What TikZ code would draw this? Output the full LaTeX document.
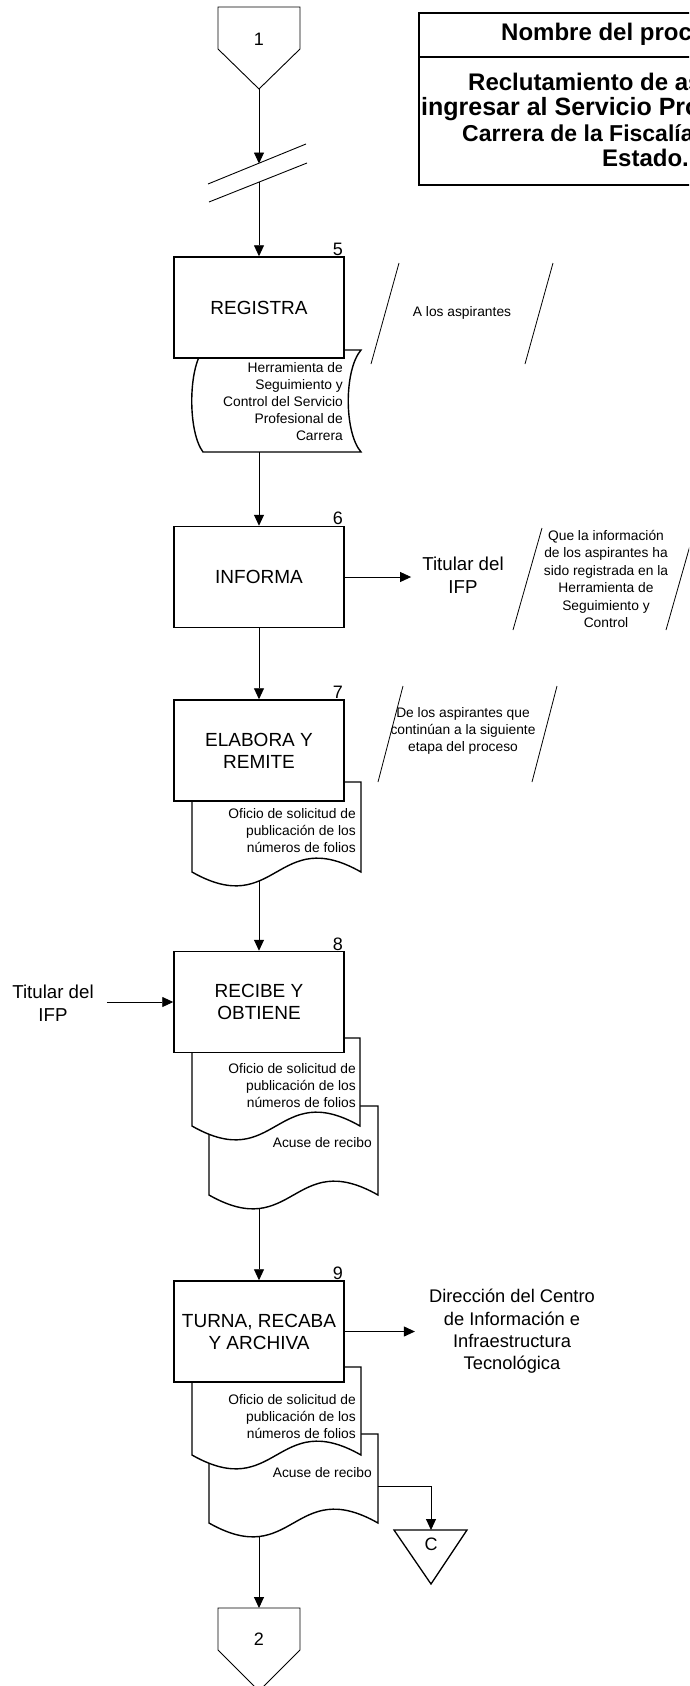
\documentclass[tikz,border=0pt]{standalone}
\usepackage{fontspec}
\setmainfont{Liberation Sans}
\usetikzlibrary{arrows.meta}
\newcommand{\fsz}[2]{\fontsize{#1}{#2}\selectfont}
\newcommand{\docshp}[4]{% L R T B
  \draw[docline] (#1,#3) -- (#2,#3) -- (#2,#4)
    .. controls ({(#1+#2)/2},{#4-48}) and ({(#1+#2)/2},{#4+48}) .. (#1,#4) -- cycle;}
\tikzset{
  proc/.style={draw, line width=1.5pt, fill=white, minimum width=170pt, minimum height=101pt,
    inner sep=0pt, align=center, font=\fsz{19}{22}},
  docline/.style={draw, line width=1.4pt, fill=white, line join=miter},
  doctext/.style={inner sep=0pt, align=right, font=\fsz{13.8}{17}},
  note/.style={inner sep=0pt, align=center, font=\fsz{13.8}{17.4}},
  ext/.style={inner ysep=0pt, align=center, font=\fsz{18.7}{23}},
  numlab/.style={inner sep=0pt, anchor=base east, font=\fsz{18}{20}},
  conn/.style={line width=0.9pt},
  arr/.style={line width=0.9pt, -{Triangle[length=11pt,width=10pt]}},
  slash/.style={line width=0.8pt},
  offpage/.style={draw, line width=0.9pt, fill=white},
  ttl/.style={inner sep=0pt, anchor=base west, font=\bfseries\fsz{24}{25}}
}
\begin{document}
\begin{tikzpicture}[x=1pt,y=-1pt]
\useasboundingbox (0,0) rectangle (689,1686);
\begin{scope}
\clip (0,0) rectangle (689,1686);

% title box
\draw[line width=1.8pt] (419,13) rectangle (871,185);
\draw[line width=1.8pt] (419,57) -- (871,57);
\node[ttl] (tt0) at (501,41) {Nombre del procedimiento};
\node[ttl] (tt1) at (468,90.5) {Reclutamiento de aspirantes};
\node[ttl, font=\bfseries\fsz{25}{25}] (tt2) at (421,115.5) {ingresar al Servicio Profesional};
\node[ttl, font=\bfseries\fsz{23}{25}] (tt3) at (462,141) {Carrera de la Fiscalía General};
\node[ttl] (tt4) at (602,166) {Estado.};

% off-page connector 1
\draw[offpage] (218,7) -- (300,7) -- (300,49) -- (259,89) -- (218,49) -- cycle;
\node[font=\fsz{18}{20}, inner sep=0pt] (p1) at (259,39) {1};
\coordinate (p1tip) at (259,89);

% break mark
\draw[conn] (208,184) -- (306,144);
\draw[conn] (209,202) -- (307,163);
\coordinate (brk1) at (259,163.5);
\coordinate (brk2) at (259,182);

% step 5
\draw[docline] (203,350) -- (361,350) .. controls (344,370) and (344,432) .. (361,452)
   -- (203,452) .. controls (188,432) and (188,370) .. (203,350) -- cycle;
\node[doctext, anchor=east] (d5t) at (343,402) {Herramienta de\\Seguimiento y\\Control del Servicio\\Profesional de\\Carrera};
\node[proc] (b5) at (259,307.5) {REGISTRA};
\node[numlab] (n5) at (343,255) {5};
\coordinate (d5bot) at (259,452);
\draw[slash] (399,263) -- (371,364);
\draw[slash] (553,263) -- (525,364);
\node[note] (a5) at (462,313) {A los aspirantes};

% step 6
\node[proc] (b6) at (259,577) {INFORMA};
\node[numlab] (n6) at (343,524) {6};
\node[ext, inner xsep=11pt] (t6) at (463,575) {Titular del\\IFP};
\draw[slash] (542,528) -- (513,630);
\draw[slash] (695,528) -- (666,630);
\node[note] (a6) at (606,579) {Que la información\\de los aspirantes ha\\sido registrada en la\\Herramienta de\\Seguimiento y\\Control};

% step 7
\docshp{192}{361}{782}{872}
\node[doctext, anchor=east] (d7t) at (356,831) {Oficio de solicitud de\\publicación de los\\números de folios};
\node[proc] (b7) at (259,750.5) {ELABORA Y\\REMITE};
\node[numlab] (n7) at (343,698) {7};
\draw[slash] (403,686) -- (378,782);
\draw[slash] (557,686) -- (532,782);
\node[note] (a7) at (463,731) {De los aspirantes que\\continúan a la siguiente\\etapa del proceso};
\coordinate (d7bot) at (259,881);

% step 8
\docshp{209}{378}{1106}{1195}
\node[doctext, anchor=east] (d8bt) at (372,1143) {Acuse de recibo};
\docshp{192}{360}{1038}{1126}
\node[doctext, anchor=east] (d8at) at (356,1086) {Oficio de solicitud de\\publicación de los\\números de folios};
\node[proc] (b8) at (259,1002) {RECIBE Y\\OBTIENE};
\node[numlab] (n8) at (343,950) {8};
\node[ext, inner xsep=13pt] (t8) at (53,1003) {Titular del\\IFP};
\coordinate (d8bot) at (259,1208);

% step 9
\docshp{209}{378}{1434}{1523}
\node[doctext, anchor=east] (d9bt) at (372,1473) {Acuse de recibo};
\docshp{192}{361}{1367}{1455}
\node[doctext, anchor=east] (d9at) at (356,1417) {Oficio de solicitud de\\publicación de los\\números de folios};
\node[proc] (b9) at (259,1331.5) {TURNA, RECABA\\Y ARCHIVA};
\node[numlab] (n9) at (343,1279) {9};
\node[ext, inner xsep=14pt, font=\fsz{18.3}{22.3}] (t9) at (512,1331.5) {Dirección del Centro\\de Información e\\Infraestructura\\Tecnológica};
\coordinate (d9bot) at (259,1537);
\coordinate (d9side) at (378,1486);

% connector C
\draw[offpage, line width=1.3pt] (394,1530) -- (467,1530) -- (431,1584) -- cycle;
\node[font=\fsz{18}{20}, inner sep=0pt] (cc) at (431,1544) {C};
\coordinate (ctop) at (431,1530);

% off-page connector 2
\draw[offpage] (218,1608) -- (300,1608) -- (300,1650) -- (259,1691) -- (218,1650) -- cycle;
\node[font=\fsz{18}{20}, inner sep=0pt] (p2) at (259,1639) {2};
\coordinate (p2top) at (259,1608);

% connectors
\draw[arr] (p1tip) -- (brk1);
\draw[arr] (brk2) -- (b5.north);
\draw[arr] (d5bot) -- (b6.north);
\draw[arr] (b6.east) -- (b6.east -| t6.west);
\draw[arr] (b6.south) -- (b7.north);
\draw[arr] (d7bot) -- (b8.north);
\draw[arr] (t8.east |- b8.west) -- (b8.west);
\draw[arr] (d8bot) -- (b9.north);
\draw[arr] (b9.east) -- (b9.east -| t9.west);
\draw[arr] (d9side) -| (ctop);
\draw[arr] (d9bot) -- (p2top);
\end{scope}
\end{tikzpicture}
\end{document}
